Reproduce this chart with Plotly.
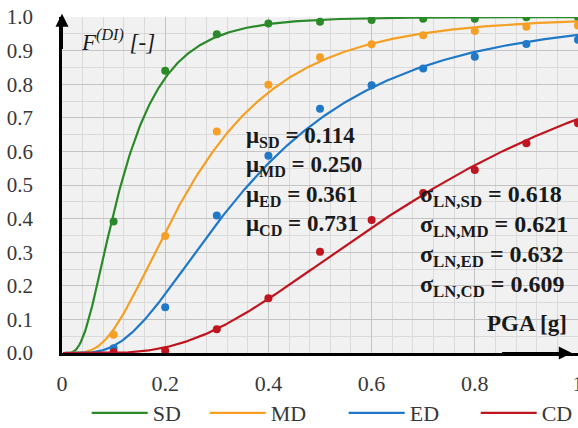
import math
import plotly.graph_objects as go

# ---- data ----
pga = [0.1, 0.2, 0.3, 0.4, 0.5, 0.6, 0.7, 0.8, 0.9, 1.0]
sd_pts = [0.391, 0.840, 0.949, 0.981, 0.986, 0.991, 0.995, 0.995, 0.999, 0.999]
md_pts = [0.054, 0.348, 0.659, 0.798, 0.880, 0.919, 0.946, 0.958, 0.971, 0.975]
ed_pts = [0.014, 0.136, 0.409, 0.587, 0.727, 0.797, 0.847, 0.882, 0.920, 0.932]
cd_pts = [0.002, 0.007, 0.071, 0.163, 0.301, 0.396, 0.476, 0.545, 0.624, 0.684]

states = ["SD", "MD", "ED", "CD"]
medians = [0.114, 0.250, 0.361, 0.731]
sigmas = [0.618, 0.621, 0.632, 0.609]
colors = ["#2a8a2a", "#f5a024", "#1f78c8", "#c0141e"]

x_ticks = [0, 0.2, 0.4, 0.6, 0.8, 1.0]
x_tick_labels = ["0", "0.2", "0.4", "0.6", "0.8", "1"]
y_ticks = [0.0, 0.1, 0.2, 0.3, 0.4, 0.5, 0.6, 0.7, 0.8, 0.9, 1.0]
y_tick_labels = ["0.0", "0.1", "0.2", "0.3", "0.4", "0.5", "0.6", "0.7", "0.8", "0.9", "1.0"]

points = [sd_pts, md_pts, ed_pts, cd_pts]

# fitted lognormal fragility curves from the displayed parameters
xs = [i / 500 for i in range(1, 501)]


def lognorm_cdf(x, mu, s):
    return 0.5 * (1 + math.erf(math.log(x / mu) / (s * math.sqrt(2))))


FONT = "Liberation Serif, Times New Roman, serif"
legend_widths = [47, 68, 61, 30]
fig = go.Figure()
for name, mu, s, col, pts, lw in zip(states, medians, sigmas, colors, points, legend_widths):
    fig.add_trace(go.Scatter(x=xs, y=[lognorm_cdf(v, mu, s) for v in xs], mode="lines",
                             line=dict(color=col, width=2.2), name=name, legendwidth=lw))
    fig.add_trace(go.Scatter(x=pga, y=pts, mode="markers", marker=dict(color=col, size=8),
                             showlegend=False, name=name + " data"))

annotations = []
mu_y = [0.643, 0.557, 0.467, 0.381]
for st, mu, yy in zip(states, medians, mu_y):
    annotations.append(dict(x=0.353, y=yy, xref="x", yref="y", xanchor="left", yanchor="middle",
                            showarrow=False,
                            text=f"<b>μ<sub>{st}</sub> = {mu:.3f}</b>",
                            font=dict(family=FONT, size=23, color="#1a1a1a")))
sig_y = [0.467, 0.378, 0.289, 0.199]
for st, s, yy in zip(states, sigmas, sig_y):
    annotations.append(dict(x=0.69, y=yy, xref="x", yref="y", xanchor="left", yanchor="middle",
                            showarrow=False,
                            text=f"<b>σ<sub>LN,{st}</sub> = {s:.3f}</b>",
                            font=dict(family=FONT, size=24, color="#1a1a1a")))
annotations.append(dict(x=0.033, y=0.93, xref="x", yref="y", xanchor="left", yanchor="middle",
                        showarrow=False, text="<i>F<sup>(DI)</sup> [-]</i>",
                        font=dict(family=FONT, size=23, color="#1a1a1a")))
annotations.append(dict(x=0.983, y=0.089, xref="x", yref="y", xanchor="right", yanchor="middle",
                        showarrow=False, text="<b>PGA [g]</b>",
                        font=dict(family=FONT, size=23, color="#1a1a1a")))
# axis arrows
annotations.append(dict(x=0, y=1.01, ax=0, ay=0.9, xref="x", yref="y", axref="x", ayref="y",
                        text="", showarrow=True, arrowhead=2, arrowsize=1.3, arrowwidth=2,
                        arrowcolor="black"))
annotations.append(dict(x=0.988, y=0, ax=0.85, ay=0, xref="x", yref="y", axref="x", ayref="y",
                        text="", showarrow=True, arrowhead=2, arrowsize=1.3, arrowwidth=2,
                        arrowcolor="black"))

fig.update_layout(
    width=578, height=428,
    margin=dict(l=62, r=0, t=17, b=75),
    paper_bgcolor="white", plot_bgcolor="#f1f1f1",
    font=dict(family=FONT, size=22, color="#383838"),
    showlegend=True,
    legend=dict(orientation="h", xref="container", yref="container", x=0.15, y=0.035,
                xanchor="left", yanchor="middle", itemwidth=56,
                font=dict(family=FONT, size=22, color="#383838"), bgcolor="rgba(0,0,0,0)"),
    annotations=annotations,
    xaxis=dict(range=[0, 1], tickvals=x_ticks, ticktext=x_tick_labels, showgrid=True,
               gridcolor="#c4c4c4", gridwidth=1, zeroline=False, showline=True, automargin=False,
               linecolor="black", linewidth=2.5, ticks="", ticklabelstandoff=9,
               ticklabeloverflow="allow", tickfont=dict(family=FONT, size=22, color="#383838"),
               minor=dict(dtick=0.04, tick0=0, showgrid=True, gridcolor="#dadada", gridwidth=1)),
    yaxis=dict(range=[0, 1], tickvals=y_ticks, ticktext=y_tick_labels, showgrid=True,
               gridcolor="#c4c4c4", gridwidth=1, zeroline=False, showline=True, automargin=False,
               linecolor="black", linewidth=2.5, ticks="", ticklabelstandoff=22,
               ticklabeloverflow="allow", tickfont=dict(family=FONT, size=21, color="#383838"),
               minor=dict(dtick=0.05, tick0=0, showgrid=True, gridcolor="#dadada", gridwidth=1)),
)

fig.write_html("out.html", config={"displayModeBar": False},
               post_script="document.body.style.margin='0';")
